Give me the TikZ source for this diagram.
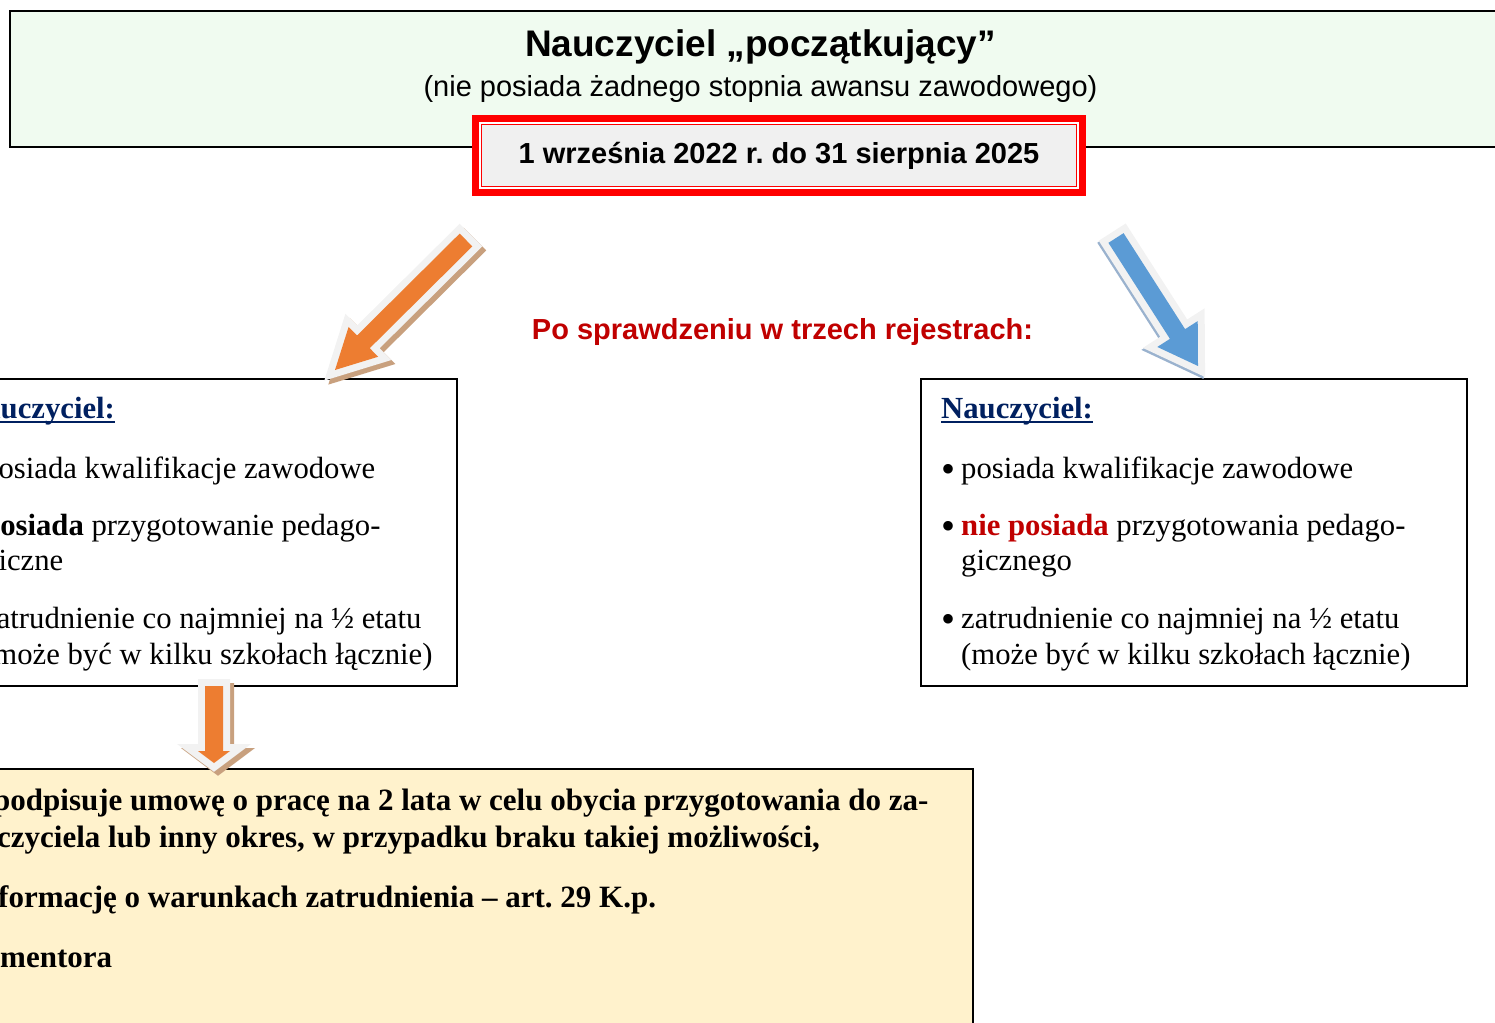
\documentclass[tikz,border=0pt]{standalone}
\usepackage{fontspec}
\setmainfont{Liberation Serif}
\newfontfamily\headfont{Liberation Sans}
\usetikzlibrary{calc}
\definecolor{topgreen}{HTML}{F0FBF0}
\definecolor{notefill}{HTML}{FFF2CC}
\definecolor{datefill}{HTML}{F0F0F0}
\definecolor{darkred}{HTML}{C00000}
\definecolor{navy}{HTML}{002060}
\definecolor{aorange}{HTML}{ED7D31}
\definecolor{ablue}{HTML}{5B9BD5}
\definecolor{aedge}{HTML}{F2F2F2}
\definecolor{oshade}{HTML}{C8A07E}
\definecolor{bshade}{HTML}{9AB2CE}
\tikzset{
  boxframe/.style={draw=black,line width=1.8pt,inner sep=0pt},
  body/.style={anchor=base west,inner sep=0pt,font=\fontsize{30.7}{35}\selectfont},
  bodybf/.style={body,font=\fontsize{31}{36}\selectfont\bfseries},
  dot/.style={body,yshift=-4pt,font=\fontsize{40}{40}\selectfont},
  head/.style={anchor=base,inner sep=0pt,font=\headfont\bfseries\fontsize{29}{34}\selectfont},
  blockarrow/.style n args={3}{insert path={
    ($(#1-t)!#2!90:(#1-p)$) -- ($(#1-b)!#2!90:(#1-p)$) -- ($(#1-b)!#3!90:(#1-p)$) --
    (#1-p) -- ($(#1-b)!#3!-90:(#1-p)$) -- ($(#1-b)!#2!-90:(#1-p)$) --
    ($(#1-t)!#2!-90:(#1-p)$) -- cycle}},
  arrowedge/.style={fill=aedge,draw=aedge,line width=14pt},
}
\begin{document}
\frenchspacing
\begin{tikzpicture}[x=1pt,y=-1pt]
\pgfmathsetmacro{\dL}{978}
\useasboundingbox (0,0) rectangle (1495,1022);
\clip (0,0) rectangle (1495,1022);
%
\node[boxframe,fill=topgreen,minimum width=1510pt,minimum height=136pt](topbox) at (765,79){};
\node[head,font=\headfont\bfseries\fontsize{37}{42}\selectfont](title) at (760.5,57){Nauczyciel „początkujący”};
\node[head,font=\headfont\fontsize{29}{34}\selectfont](subtitle) at (760.5,97){(nie posiada żadnego stopnia awansu zawodowego)};
\node[draw=red,line width=1.5pt,fill=datefill,minimum width=595pt,minimum height=62pt,
  preaction={draw=red,line width=19pt},preaction={draw=white,line width=5pt},
  font=\headfont\bfseries\fontsize{29}{34}\selectfont](date) at (779,155.5){\raisebox{-2pt}{1 września 2022 r. do 31 sierpnia 2025}};
\node[head,text=darkred](check) at (782.5,339){Po sprawdzeniu w trzech rejestrach:};
%
\node[boxframe,fill=white,minimum width=514pt,minimum height=307pt](lbox) at (200,532.5){};
\node[boxframe,fill=white,minimum width=546pt,minimum height=307pt](rbox) at (1194,532.5){};
\node[boxframe,fill=notefill,minimum width=1030pt,minimum height=331pt](nbox) at (458,934.5){};
%
\node[bodybf,font=\fontsize{30.7}{35}\selectfont\bfseries,text=navy](rhead) at (941,418){Nauczyciel:};
\draw[navy,line width=1.6pt]($(rhead.base west)+(0,4)$)--($(rhead.base east)+(0,4)$);
\node[dot](rb1) at (941,478){\textbullet};
\node[body](rt1) at (961,478){posiada kwalifikacje zawodowe};
\node[dot](rb2) at (941,535){\textbullet};
\node[body](rt2) at (961,535){\textcolor{darkred}{\bfseries nie posiada} przygotowania pedago-};
\node[body](rt3) at (961,570){gicznego};
\node[dot](rb3) at (941,628){\textbullet};
\node[body](rt4) at (961,628){zatrudnienie co najmniej na ½ etatu};
\node[body](rt5) at (961,664){(może być w kilku szkołach łącznie)};
%
\node[bodybf,font=\fontsize{30.7}{35}\selectfont\bfseries,text=navy](lhead) at (941-\dL,418){Nauczyciel:};
\draw[navy,line width=1.6pt]($(lhead.base west)+(0,4)$)--($(lhead.base east)+(0,4)$);
\node[dot](lb1) at (941-\dL,478){\textbullet};
\node[body](lt1) at (961-\dL,478){posiada kwalifikacje zawodowe};
\node[dot](lb2) at (941-\dL,535){\textbullet};
\node[body](lt2) at (961-\dL,535){\textbf{posiada} przygotowanie pedago-};
\node[body](lt3) at (961-\dL,570){giczne};
\node[dot](lb3) at (941-\dL,628){\textbullet};
\node[body](lt4) at (961-\dL,628){zatrudnienie co najmniej na ½ etatu};
\node[body](lt5) at (961-\dL,664){(może być w kilku szkołach łącznie)};
%
\node[bodybf](n1) at (-7,810){podpisuje umowę o pracę na 2 lata w celu obycia przygotowania do za-};
\node[bodybf](n2) at (-3,847){czyciela lub inny okres, w przypadku braku takiej możliwości,};
\node[bodybf](n3) at (-2,907){formację o warunkach zatrudnienia – art. 29 K.p.};
\node[bodybf](n4) at (0,967){mentora};
%
\coordinate(oa-t) at (466,240);
\coordinate(oa-p) at (335,370);
\coordinate(oa-b) at ($(oa-p)!40pt!(oa-t)$);
\coordinate(ba-t) at (1116,238);
\coordinate(ba-p) at (1198,366);
\coordinate(ba-b) at ($(ba-p)!38pt!(ba-t)$);
\coordinate(da-t) at (214,686);
\coordinate(da-p) at (214,763);
\coordinate(da-b) at ($(da-p)!12pt!(da-t)$);
\begin{scope}[transform canvas={shift={(4pt,-4pt)}}]
\path[arrowedge,fill=oshade,draw=oshade,blockarrow={oa}{9pt}{21pt}];
\path[arrowedge,fill=oshade,draw=oshade,blockarrow={da}{9pt}{16pt}];
\end{scope}
\begin{scope}[transform canvas={shift={(-1.5pt,-2pt)}}]
\path[arrowedge,fill=bshade,draw=bshade,blockarrow={ba}{9pt}{24pt}];
\end{scope}
\path[arrowedge,blockarrow={oa}{9pt}{21pt}];
\fill[aorange,blockarrow={oa}{9pt}{21pt}];
\path[arrowedge,blockarrow={ba}{9pt}{24pt}];
\fill[ablue,blockarrow={ba}{9pt}{24pt}];
\path[arrowedge,blockarrow={da}{9pt}{16pt}];
\fill[aorange,blockarrow={da}{9pt}{16pt}];
\end{tikzpicture}
\end{document}
